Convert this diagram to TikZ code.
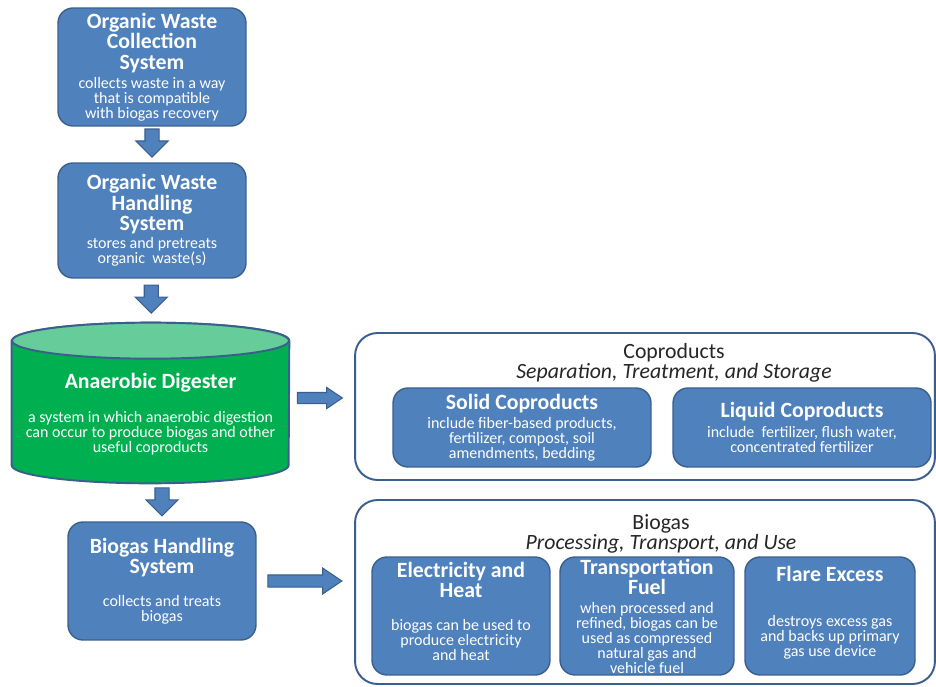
\documentclass[tikz,border=0pt]{standalone}
\usepackage{fontspec}
\setmainfont{Carlito}
\usetikzlibrary{shapes.arrows,calc,backgrounds}

\definecolor{boxblue}{HTML}{4F81BD}
\definecolor{boxline}{HTML}{3A5F8C}
\definecolor{diggreen}{HTML}{00B050}
\definecolor{digtop}{HTML}{66CC99}

\setlength{\parindent}{0pt}
\setlength{\parskip}{0pt}
\setlength{\lineskiplimit}{-100pt}

\newcommand{\ttlfont}{\fontsize{12.4}{11.6}\selectfont\bfseries}
\newcommand{\dscfont}{\fontsize{9.1}{8.5}\selectfont}
\newcommand{\hdrfont}{\fontsize{12.4}{11.3}\selectfont}
\newcommand{\boxtxt}[3]{\centering\spaceskip=0pt\xspaceskip=0pt
  {\ttlfont #1\par}\vspace{#2}{\dscfont #3\par}}

\begin{document}
\begin{tikzpicture}[
        x=0.02cm, y=0.02cm,
        box/.style={draw=boxline, fill=boxblue, line width=0.8pt,
          rounded corners=0.3cm, text=white, align=center,
          inner sep=0pt, minimum height=2.36cm},
        groupbox/.style={draw=boxline, fill=white, line width=1.1pt,
          rounded corners=0.45cm, inner sep=0pt, minimum width=11.6cm},
        grouphead/.style={text=black!85, align=center, text width=8cm,
          inner sep=0pt},
        darrow/.style={single arrow, draw=boxline, fill=boxblue,
          line width=0.6pt, rotate=-90, minimum height=0.56cm,
          inner xsep=0pt, inner ysep=0.13cm, single arrow head extend=0.18cm},
        rarrow/.style={single arrow, draw=boxline, fill=boxblue,
          line width=0.6pt, inner xsep=0pt, single arrow tip angle=68}]
        % 画布范围
        \useasboundingbox (0,0) rectangle (936,-686);
        % 左侧流程
        \node[box, text width=3.76cm] (coll) at (152,-67)
          {\boxtxt{Organic Waste\\Collection\\System}{2.3pt}
            {collects waste in a way\\that is compatible\\with biogas recovery}};
        \node[box, text width=3.76cm, minimum height=2.3cm] (hand) at (152,-220.5)
          {\boxtxt{Organic Waste\\Handling\\System}{1.7pt}
            {stores and pretreats\\organic\ \ waste(s)}};
        % 消化罐
        \node[text=white, align=center, text width=5.54cm, inner sep=0pt,
          minimum height=3.2cm] (dig) at (150.5,-403)
          {\boxtxt{Anaerobic Digester}{10.8pt}
            {a system in which anaerobic digestion\\can occur to produce biogas and other\\useful coproducts}\vspace*{-12.5pt}};
        \begin{scope}[on background layer]
          \filldraw[draw=boxline, fill=diggreen, line width=1.1pt]
            ([yshift=-0.36cm]dig.north west) -- ([yshift=0.36cm]dig.south west)
            arc[start angle=180, end angle=360, x radius=2.77cm, y radius=0.36cm]
            -- ([yshift=-0.36cm]dig.north east)
            arc[start angle=0, end angle=180, x radius=2.77cm, y radius=0.36cm]
            -- cycle;
          \filldraw[draw=boxline, fill=digtop, line width=1.1pt]
            ([yshift=-0.36cm]dig.north) ellipse[x radius=2.77cm, y radius=0.36cm];
        \end{scope}
        \node[box, text width=3.76cm] (bhand) at (162,-581)
          {\boxtxt{Biogas Handling\\System}{10.2pt}
            {collects and treats\\biogas}};
        % 副产品
        \node[groupbox, minimum height=2.94cm] (cop) at (645,-406.5) {};
        \node[grouphead] (coph) at (674,-363)
          {\centering\spaceskip=0pt\hdrfont Coproducts\\\itshape Separation, Treatment, and Storage\par};
        \node[box, text width=5.16cm, minimum height=1.58cm] (solid) at (522,-427.5)
          {\boxtxt{Solid Coproducts}{2.3pt}
            {include fiber-based products,\\fertilizer, compost, soil\\amendments, bedding}};
        \node[box, text width=5.16cm, minimum height=1.58cm] (liquid) at (802,-427.5)
          {\boxtxt{Liquid Coproducts}{2.8pt}
            {include\ \ fertilizer, flush water,\\concentrated fertilizer}};
        % 沼气利用
        \node[groupbox, minimum height=3.68cm] (bgas) at (645,-592) {};
        \node[grouphead] (bgash) at (661,-534)
          {\centering\spaceskip=0pt\hdrfont Biogas\\\itshape Processing, Transport, and Use\par};
        \node[box, text width=3.56cm] (elec) at (461,-616)
          {\boxtxt{Electricity and\\Heat}{10.2pt}
            {biogas can be used to\\produce electricity\\and heat}\vspace*{5.7pt}};
        \node[box, text width=3.48cm] (trans) at (647,-616)
          {\boxtxt{Transportation\\Fuel}{2.3pt}
            {when processed and\\refined, biogas can be\\used as compressed\\natural gas and\\vehicle fuel}};
        \node[box, text width=3.40cm] (flare) at (830,-616)
          {\boxtxt{Flare Excess}{17pt}
            {destroys excess gas\\and backs up primary\\gas use device}\vspace*{3.4pt}};
        % 箭头
        \node[darrow] (a1) at ($(coll.south)!0.5!(hand.north)+(0,5)$) {};
        \node[darrow] (a2) at ($(hand.south)!0.5!(dig.north)+(0,5)$) {};
        \node[darrow] (a3) at ($(bhand.north)!0.5!(bhand.north |- dig.south)+(0,4)$) {};
        \node[rarrow, minimum height=0.9cm, inner ysep=0.1cm,
          single arrow head extend=0.1cm]
          (a4) at ($(dig.east)!0.5!(dig.east -| cop.west)+(-6,5)$) {};
        \node[rarrow, minimum height=1.48cm, inner ysep=0.11cm,
          single arrow head extend=0.14cm]
          (a5) at ($(bhand.east)!0.5!(bhand.east -| bgas.west)+(-5,0)$) {};
      \end{tikzpicture}
\end{document}
